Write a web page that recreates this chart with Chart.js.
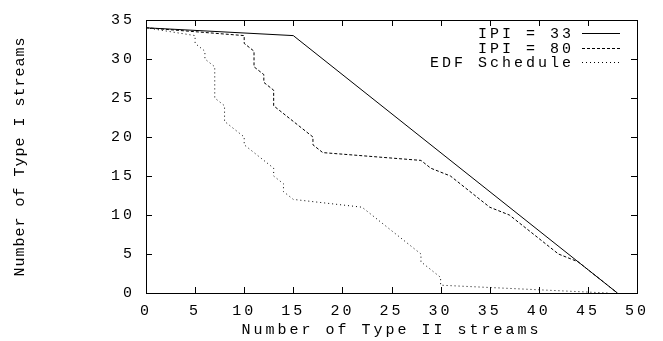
<!DOCTYPE html>
<html>
<head>
<meta charset="utf-8">
<script src="https://cdn.jsdelivr.net/npm/chart.js@4.4.1/dist/chart.umd.min.js"></script>
<style>
  html, body { margin: 0; padding: 0; background: #fff; }
</style>
</head>
<body>
<canvas id="grafico" width="663" height="341"></canvas>
<script>
// ticks
const xTicks = [0, 5, 10, 15, 20, 25, 30, 35, 40, 45, 50];
const yTicks = [0, 5, 10, 15, 20, 25, 30, 35];

// series
const ipi33X = [0, 15, 48];
const ipi33Y = [34, 33, 0];

const ipi80X = [0, 10, 10, 11, 11, 12, 12, 13, 13, 17, 17, 18, 28, 29, 31, 35, 37, 42, 44, 48];
const ipi80Y = [34, 33, 32, 31, 29, 28, 27, 26, 24, 20, 19, 18, 17, 16, 15, 11, 10, 5, 4, 0];

const edfX = [0, 5, 5, 6, 6, 7, 7, 8, 8, 10, 10, 13, 13, 14, 14, 15, 22, 28, 28, 30, 30, 47];
const edfY = [34, 33, 32, 31, 30, 29, 25, 24, 22, 20, 19, 16, 15, 14, 13, 12, 11, 5, 4, 2, 1, 0];

const labels = ['IPI = 33', 'IPI = 80', 'EDF Schedule'];

const pontos = (xs, ys) => xs.map((v, i) => ({ x: v, y: ys[i] }));

const fonte = "'Liberation Mono', 'DejaVu Sans Mono', monospace";
const espaco = '3px';

// moldura estilo gnuplot: caixa, ticks para dentro, legenda e titulo do eixo y
const moldura = {
  id: 'moldura',
  beforeLayout(chart) { chart.ctx.letterSpacing = espaco; },
  beforeDraw(chart) { chart.ctx.letterSpacing = espaco; },
  afterDraw(chart) {
    const { ctx, chartArea: a, scales: { x, y } } = chart;
    ctx.save();
    ctx.strokeStyle = '#000';
    ctx.lineWidth = 1;
    ctx.setLineDash([]);
    ctx.beginPath();
    xTicks.forEach(v => {
      const px = Math.round(x.getPixelForValue(v)) + 0.5;
      ctx.moveTo(px, a.bottom); ctx.lineTo(px, a.bottom - 6);
      ctx.moveTo(px, a.top); ctx.lineTo(px, a.top + 6);
    });
    yTicks.forEach(v => {
      const py = Math.round(y.getPixelForValue(v)) + 0.5;
      ctx.moveTo(a.left, py); ctx.lineTo(a.left + 6, py);
      ctx.moveTo(a.right, py); ctx.lineTo(a.right - 6, py);
    });
    ctx.stroke();
    ctx.strokeRect(Math.round(a.left) + 0.5, Math.round(a.top) + 0.5,
      Math.round(a.right - a.left), Math.round(a.bottom - a.top));

    // legenda
    ctx.font = '15px ' + fonte;
    ctx.fillStyle = '#000';
    ctx.textAlign = 'right';
    ctx.textBaseline = 'alphabetic';
    ctx.letterSpacing = espaco;
    chart.data.datasets.forEach((ds, i) => {
      const ly = Math.round(33 + i * 14.5);
      ctx.fillText(ds.label, 574, ly + 5);
      ctx.beginPath();
      ctx.setLineDash(ds.borderDash || []);
      ctx.moveTo(582, ly + 0.5);
      ctx.lineTo(620, ly + 0.5);
      ctx.stroke();
    });

    // titulo eixo y
    ctx.setLineDash([]);
    ctx.letterSpacing = '1px';
    ctx.textAlign = 'center';
    ctx.textBaseline = 'middle';
    ctx.translate(20, (a.top + a.bottom) / 2);
    ctx.rotate(-Math.PI / 2);
    ctx.fillText('Number of Type I streams', 0, 0);
    ctx.restore();
  }
};

Chart.defaults.font.family = fonte;
Chart.defaults.font.size = 15;
Chart.defaults.color = '#000';

new Chart(document.getElementById('grafico'), {
  type: 'line',
  data: {
    datasets: [
      {
        label: labels[0],
        data: pontos(ipi33X, ipi33Y),
        borderColor: '#000',
        borderWidth: 1,
        pointRadius: 0,
        tension: 0
      },
      {
        label: labels[1],
        data: pontos(ipi80X, ipi80Y),
        borderColor: '#000',
        borderWidth: 1,
        borderDash: [3, 2],
        pointRadius: 0,
        tension: 0
      },
      {
        label: labels[2],
        data: pontos(edfX, edfY),
        borderColor: '#000',
        borderWidth: 1,
        borderDash: [1, 3],
        pointRadius: 0,
        tension: 0
      }
    ]
  },
  options: {
    responsive: false,
    animation: false,
    layout: { padding: { left: 0, top: 10, right: 26, bottom: 0 } },
    plugins: {
      legend: { display: false },
      tooltip: { enabled: false }
    },
    scales: {
      x: {
        type: 'linear',
        min: 0,
        max: 50,
        afterBuildTicks: s => { s.ticks = xTicks.map(v => ({ value: v })); },
        afterFit: s => { s.height = 48; },
        grid: { display: false, drawTicks: false },
        border: { display: false },
        ticks: { padding: 11, maxRotation: 0, font: { lineHeight: 1 } },
        title: {
          display: true,
          text: 'Number of Type II streams',
          font: { lineHeight: 1 },
          padding: { top: 0, bottom: 3 }
        }
      },
      y: {
        type: 'linear',
        min: 0,
        max: 35,
        afterBuildTicks: s => { s.ticks = yTicks.map(v => ({ value: v })); },
        afterFit: s => { s.width = 146; },
        grid: { display: false, drawTicks: false },
        border: { display: false },
        ticks: { padding: 11 }
      }
    }
  },
  plugins: [moldura]
});
</script>
</body>
</html>
